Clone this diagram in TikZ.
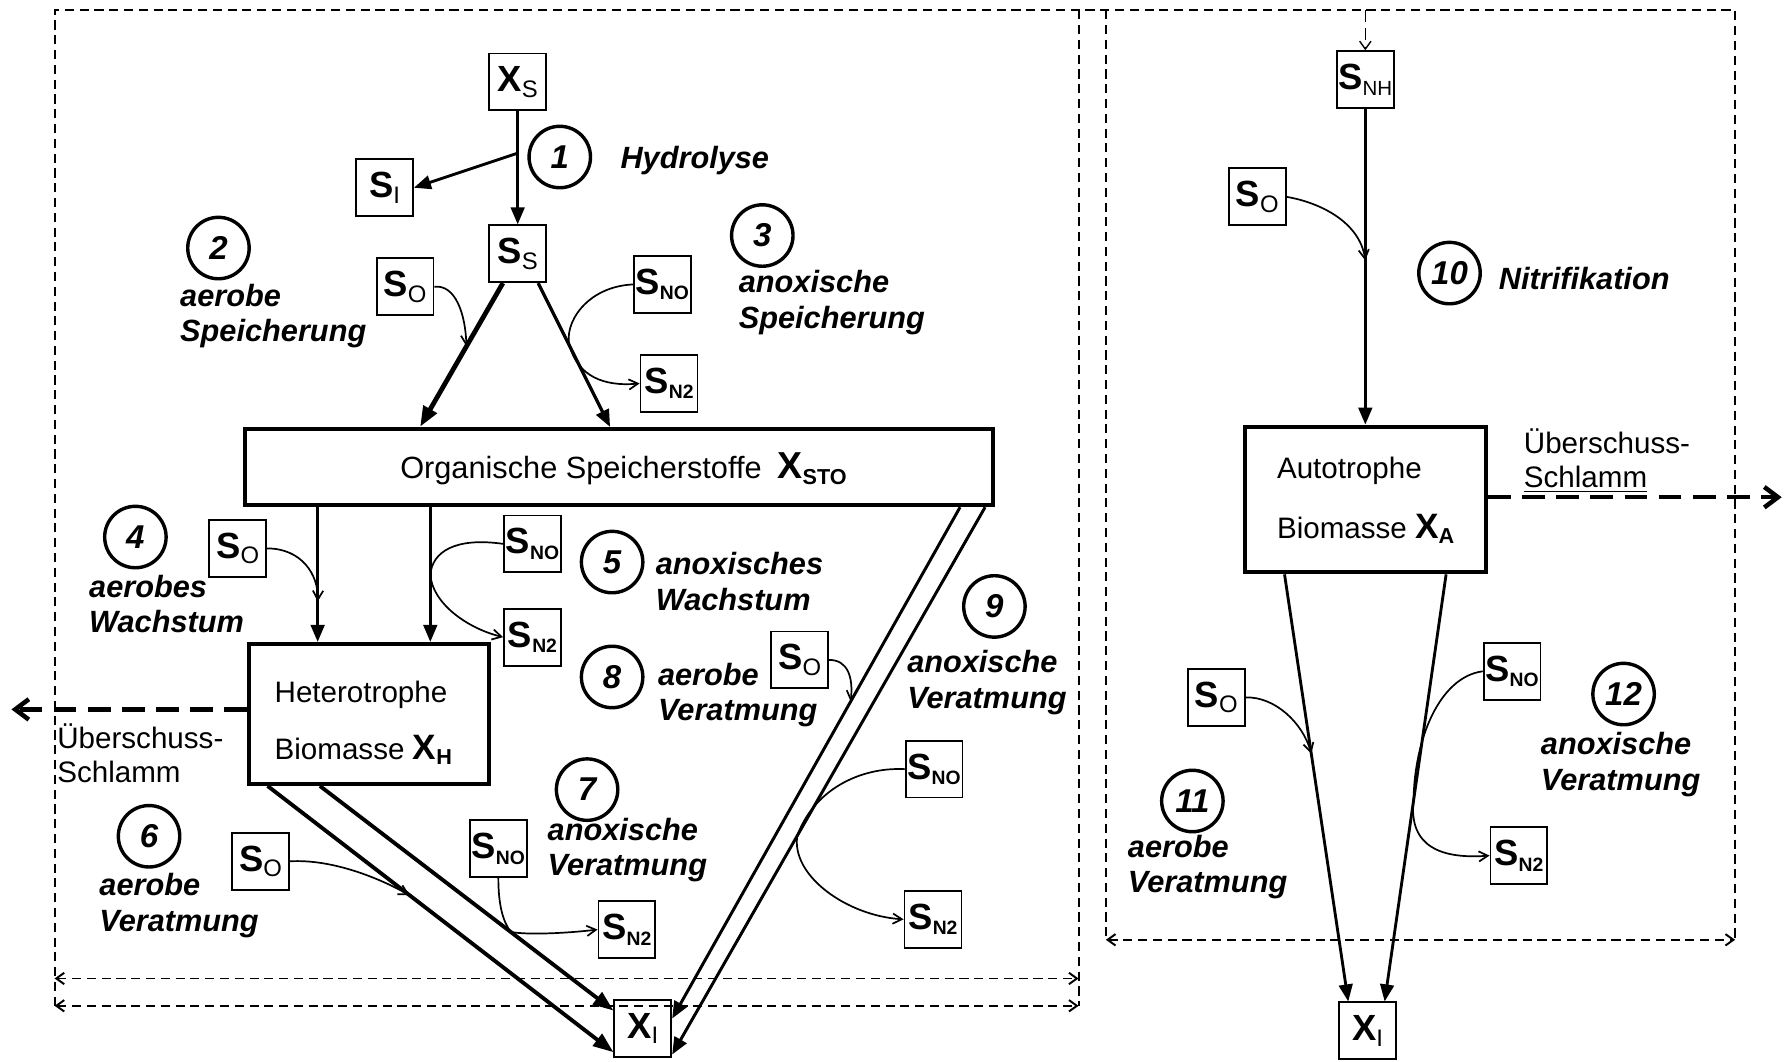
\documentclass[tikz,border=0pt]{standalone}
\usepackage{fontspec}
\setmainfont{Liberation Sans}
\usetikzlibrary{arrows.meta,calc}

% component symbols: bold letter with a regular or bold index
\newcommand\sym[2]{{\fontsize{16}{18}\selectfont\bfseries #1}\raisebox{-2.4pt}{\fontsize{10.5}{12}\selectfont #2}}
\newcommand\symb[2]{{\fontsize{16}{18}\selectfont\bfseries #1}\raisebox{-2.4pt}{\fontsize{8.5}{10}\selectfont\bfseries #2}}
\newcommand\symn[2]{{\fontsize{16}{18}\selectfont\bfseries #1}\raisebox{-2.4pt}{\fontsize{9}{10}\selectfont #2}}

\begin{document}
\begin{tikzpicture}[x=0.5pt,y=-0.5pt,
  sbox/.style={draw, line width=0.8pt, minimum width=25pt, minimum height=25pt, inner sep=0pt},
  bigbox/.style={draw, line width=1.8pt, inner sep=0pt},
  num/.style={draw, circle, line width=1.5pt, minimum size=27pt, inner sep=0pt,
    font=\fontsize{14.5}{16}\selectfont\bfseries\itshape},
  lab/.style={align=left, inner sep=0pt, anchor=west,
    font=\fontsize{13.5}{15.5}\selectfont\bfseries\itshape},
  txt/.style={align=left, inner sep=0pt, anchor=west, font=\fontsize{13}{15}\selectfont},
  flow/.style={line width=1.25pt, -{Triangle[length=7.5pt,width=6pt]}},
  flowthick/.style={line width=1.7pt, -{Triangle[length=9pt,width=6.5pt]}},
  react/.style={line width=0.75pt, -{Straight Barb[length=4pt,width=4.5pt]}},
  frame/.style={line width=0.85pt, dash pattern=on 4pt off 2.5pt},
  framearr/.style={frame, {Straight Barb[length=3.5pt,width=5pt]}-{Straight Barb[length=3.5pt,width=5pt]}},
  sludge/.style={line width=2pt, dash pattern=on 10pt off 5pt, -{Straight Barb[length=6pt,width=9pt]}}
]
\useasboundingbox (0,0) rectangle (1568,933);

% ---------- system boundaries ----------
\draw[frame] (48,884) -- (48,9) -- (1525,9) -- (1525,826);
\draw[frame] (948,9) -- (948,884);
\draw[frame] (972,9) -- (972,826);
\draw[framearr] (48,860) -- (948,860);
\draw[framearr] (48,884) -- (948,884);
\draw[framearr] (972,826) -- (1525,826);

% ---------- heterotrophic part ----------
\node[sbox] (XS) at (455,72) {\sym{X}{S}};
\node[sbox] (SI) at (338,165) {\sym{S}{I}};
\node[sbox] (SS) at (455,223) {\sym{S}{S}};
\node[sbox] (SO2) at (356,252) {\sym{S}{O}};
\node[sbox] (SNO3) at (582,250) {\symb{S}{NO}};
\node[sbox] (SN23) at (588,337) {\symb{S}{N2}};

\node[bigbox, minimum width=329pt, minimum height=33.5pt] (XSTO) at (544,410.5) {};
\node[inner sep=0pt, font=\fontsize{13.5}{15}\selectfont] (XSTOt) at (548,412)
  {Organische Speicherstoffe\hspace{7pt}{\fontsize{16.5}{18}\selectfont\bfseries X}\raisebox{-2.5pt}{\fontsize{9.5}{11}\selectfont\bfseries STO}};

\node[sbox] (SO4) at (209,482) {\sym{S}{O}};
\node[sbox] (SNO5) at (468,478) {\symb{S}{NO}};
\node[sbox] (SN25) at (468,560) {\symb{S}{N2}};

\node[bigbox, minimum width=105.5pt, minimum height=61.5pt] (XH) at (324.5,627.5) {};
\node[txt] (XHt) at (241,635) {Heterotrophe\\[10pt]Biomasse {\fontsize{15.5}{17}\selectfont\bfseries X}\raisebox{-2.2pt}{\fontsize{9.5}{11}\selectfont\bfseries H}};

\node[sbox] (SO8) at (703,580) {\sym{S}{O}};
\node[sbox] (SNO9) at (821,676) {\symb{S}{NO}};
\node[sbox] (SN29) at (820,808) {\symb{S}{N2}};
\node[sbox] (SO6) at (229,757) {\sym{S}{O}};
\node[sbox] (SNO7) at (438,746) {\symb{S}{NO}};
\node[sbox] (SN27) at (551,817) {\symb{S}{N2}};
\node[sbox] (XI) at (565,904) {\sym{X}{I}};

% process numbers
\node[num] (c1) at (492,138) {1};
\node[num] (c2) at (192,218) {2};
\node[num] (c3) at (670,207) {3};
\node[num] (c4) at (119,472) {4};
\node[num] (c5) at (538,494) {5};
\node[num] (c8) at (538,595) {8};
\node[num] (c9) at (874,533) {9};
\node[num] (c6) at (131,735) {6};
\node[num] (c7) at (516,694) {7};

% process names
\node[lab] (t1) at (545,141) {Hydrolyse};
\node[lab] (t2) at (158,278) {aerobe\\Speicherung};
\node[lab] (t3) at (649,266) {anoxische\\Speicherung};
\node[lab] (t4) at (78,531) {aerobes\\Wachstum};
\node[lab] (t5) at (576,511) {anoxisches\\Wachstum};
\node[lab] (t8) at (578,611) {aerobe\\Veratmung};
\node[lab] (t9) at (797,600) {anoxische\\Veratmung};
\node[lab] (t6) at (87,796) {aerobe\\Veratmung};
\node[lab] (t7) at (481,747) {anoxische\\Veratmung};

\node[txt] (ueL) at (50,662) {Überschuss-\\Schlamm};

% main conversion paths
\draw[flow] (XS.south) -- coordinate[pos=0.37] (h1) (SS.north);
\draw[flow] (h1) -- (SI.east);
\draw[flowthick, line width=2.1pt] ($(SS.south)+(-13,0)$) -- coordinate[pos=0.44] (m2) ($(XSTO.north west)+(156,0)$);
\draw[flow, line width=1.4pt] ($(SS.south)+(18,0)$) -- coordinate[pos=0.44] (m3) ($(XSTO.north west)+(323,0)$);
\draw[flow] ($(XSTO.south west)+(66,0)$) -- coordinate[pos=0.7] (m4) ($(XH.north west)+(62,0)$);
\draw[flow] ($(XSTO.south west)+(165,0)$) -- coordinate[pos=0.5] (m5) ($(XH.north west)+(161,0)$);
\draw[flowthick] ($(XH.south west)+(18,0)$) -- coordinate[pos=0.41] (m6) ($(XI.south west)+(0,-5)$);
\draw[flowthick] ($(XH.south west)+(64,0)$) -- coordinate[pos=0.65] (m7) ($(XI.north west)+(0,10)$);
\draw[flow, line width=1.3pt] ($(XSTO.south east)+(-31,0)$) -- coordinate[pos=0.38] (m8) ($(XI.north east)+(0,17)$);
\draw[flow, line width=1.3pt] ($(XSTO.south east)+(-9,0)$) -- coordinate[pos=0.6] (m9) ($(XI.south east)+(0,-3)$);

% electron acceptors
\draw[react] (SO2.east) .. controls (400,250) and (409,275) .. (m2);
\draw[react] (SNO3.west) .. controls (515,252) and (495,285) .. (m3) .. controls (508,330) and (530,340) .. (SN23.west);
\draw[react] (SO4.east) .. controls (265,482) and (280,505) .. (m4);
\draw[react] (SNO5.west) .. controls (400,472) and (380,485) .. (m5) .. controls (380,530) and (410,552) .. (SN25.west);
\draw[react] (SO8.east) .. controls (745,580) and (750,595) .. (m8);
\draw[react] (SNO9.west) .. controls (755,674) and (715,695) .. (m9) .. controls (695,770) and (745,805) .. (SN29.west);
\draw[react] (SO6.east) .. controls (290,755) and (330,770) .. (m6);
\draw[react] (SNO7.south) .. controls (438,795) and (442,810) .. (m7) .. controls (465,822) and (500,820) .. (SN27.west);

% excess sludge (heterotrophs)
\coordinate (outL) at (10,623.5);
\draw[sludge] ($(XH.west)+(0,-4)$) -- (outL);

% ---------- autotrophic part ----------
\node[sbox] (SNH) at (1200,70) {\symn{S}{NH}};
\node[sbox] (SO10) at (1105,173) {\sym{S}{O}};
\node[bigbox, minimum width=106pt, minimum height=64pt] (XA) at (1200,439) {};
\node[txt] (XAt) at (1122,439.5) {Autotrophe\\[11.5pt]Biomasse {\fontsize{15.5}{17}\selectfont\bfseries X}\raisebox{-2.2pt}{\fontsize{9.5}{11}\selectfont\bfseries A}};
\node[sbox] (SO11) at (1069,613) {\sym{S}{O}};
\node[sbox] (SNO12) at (1329,590) {\symb{S}{NO}};
\node[sbox] (SN212) at (1335,752) {\symb{S}{N2}};
\node[sbox] (XI2) at (1202,906) {\sym{X}{I}};

\node[num] (c10) at (1274,240) {10};
\node[num] (c11) at (1048,704) {11};
\node[num] (c12) at (1427,610) {12};
\node[lab] (t10) at (1317,245) {Nitrifikation};
\node[lab] (t11) at (991,762) {aerobe\\Veratmung};
\node[lab] (t12) at (1354,672) {anoxische\\Veratmung};
\node[txt] (ueR) at (1339,405) {Überschuss-\\\underline{Schlamm}};

\coordinate (nin) at (1200,9);
\draw[line width=0.6pt, dash pattern=on 5pt off 3pt, -{Straight Barb[length=3.5pt,width=5pt]}] (nin) -- (SNH.north);
\draw[flow] (SNH.south) -- coordinate[pos=0.48] (m10) (XA.north);
\draw[flow] ($(XA.south)+(-71,0)$) -- coordinate[pos=0.42] (m11) ($(XI2.north)+(-17,0)$);
\draw[flow] ($(XA.south)+(71,0)$) -- coordinate[pos=0.53] (m12) ($(XI2.north)+(15,0)$);

\draw[react] (SO10.east) .. controls (1160,178) and (1195,195) .. (m10);
\draw[react] (SO11.east) .. controls (1120,612) and (1145,635) .. (m11);
\draw[react] (SNO12.west) .. controls (1265,595) and (1243,650) .. (m12) .. controls (1238,745) and (1268,755) .. (SN212.west);

% excess sludge (autotrophs)
\coordinate (outR) at (1566,437);
\draw[sludge] ($(XA.east)+(0,-2)$) -- (outR);

\end{tikzpicture}
\end{document}
